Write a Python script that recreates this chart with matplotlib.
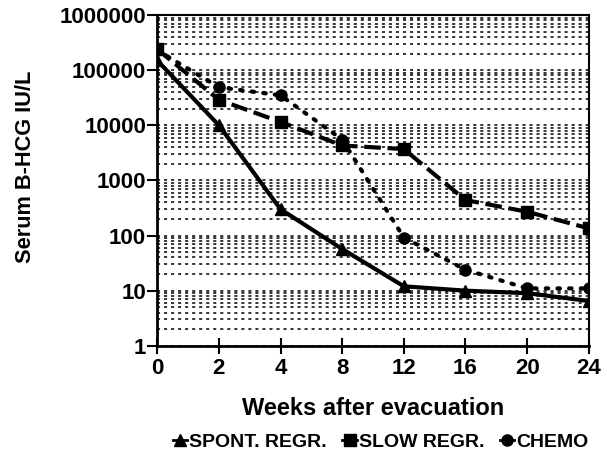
import numpy as np
import matplotlib
matplotlib.use("Agg")
from matplotlib import pyplot as plt
from matplotlib.lines import Line2D
from matplotlib.ticker import LogLocator, FixedLocator, NullFormatter

plt.rcParams["font.family"] = ["Liberation Sans", "DejaVu Sans"]
plt.rcParams["font.weight"] = "bold"

weeks = ["0", "2", "4", "8", "12", "16", "20", "24"]
spont = [150000, 10000, 300, 57, 12, 10, 9, 6.5]
slow = [240000, 29000, 11500, 4300, 3700, 440, 270, 135]
chemo = [230000, 49000, 35000, 5500, 92, 24, 11, 11]
y_ticks = [1, 10, 100, 1000, 10000, 100000, 1000000]

fig = plt.figure(figsize=(6.07, 4.55), dpi=100)
ax = fig.add_axes([0.259, 0.240, 0.711, 0.727])

xpos = np.arange(len(weeks))
ax.plot(xpos, spont, color="k", lw=3, marker="^", ms=8, zorder=4)
ax.plot(xpos, slow, color="k", lw=3, ls=(0, (4, 1.6)), marker="s", ms=8, zorder=3)
ax.plot(xpos, chemo, color="k", lw=3, ls=(0, (0.6, 2.2)), dash_capstyle="round",
        marker="o", ms=8, zorder=3)

ax.set_yscale("log")
ax.set_ylim(1, 1000000)
ax.set_xlim(0, len(weeks) - 1)
ax.yaxis.set_major_locator(FixedLocator(y_ticks))
ax.set_yticklabels([str(v) for v in y_ticks])
ax.yaxis.set_minor_locator(LogLocator(base=10, subs=np.arange(2, 10)))
ax.yaxis.set_minor_formatter(NullFormatter())
ax.set_xticks(xpos)
ax.set_xticklabels(weeks)

ax.grid(axis="y", which="both", color="k", lw=1.1, ls=(0, (2, 2.6)))
ax.grid(axis="x", visible=False)

ax.tick_params(axis="both", which="major", labelsize=16, width=1.5, color="k")
ax.tick_params(axis="x", direction="inout", length=12, pad=3)
ax.tick_params(axis="y", direction="out", length=7, pad=1)
ax.tick_params(axis="y", which="minor", length=0)
for lab in ax.get_xticklabels() + ax.get_yticklabels():
    lab.set_fontweight("bold")

for side in ["left", "bottom"]:
    ax.spines[side].set_linewidth(2)
for side in ["top", "right"]:
    ax.spines[side].set_linewidth(1.5)

ax.set_ylabel("Serum B-HCG IU/L", fontsize=15.7, fontweight="bold")
ax.yaxis.set_label_coords(-0.282, 0.54)
ax.set_xlabel("Weeks after evacuation", fontsize=17, fontweight="bold")
ax.xaxis.set_label_coords(0.5, -0.155)

handles = [
    Line2D([], [], color="k", lw=2, marker="^", ms=8),
    Line2D([], [], color="k", lw=2, marker="s", ms=8),
    Line2D([], [], color="k", lw=2, marker="o", ms=8),
]
labels = ["SPONT. REGR.", "SLOW REGR.", "CHEMO"]
fig.legend(handles, labels, loc="center", bbox_to_anchor=(0.627, 0.028), ncol=3,
           frameon=False, handlelength=0.75, handletextpad=0.1, columnspacing=0.8,
           prop={"size": 14, "weight": "bold"})

fig.savefig("out.png", dpi=100)
